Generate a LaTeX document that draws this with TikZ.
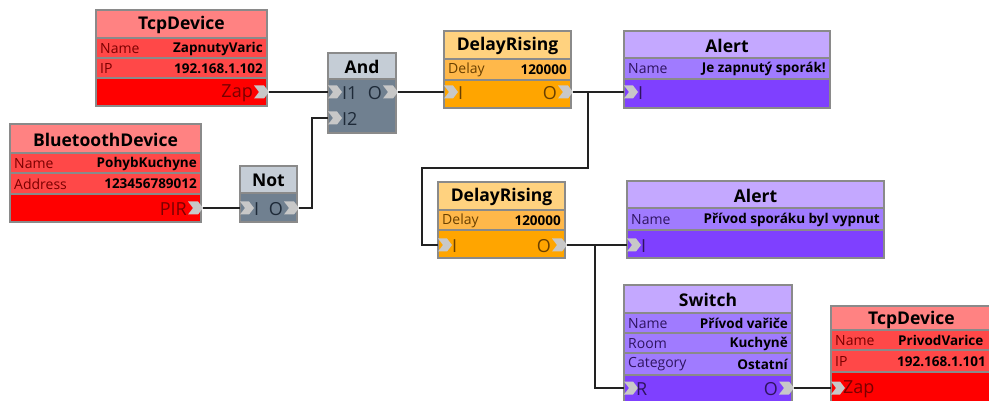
\documentclass[tikz,border=0pt]{standalone}
\usepackage{fontspec}
\setmainfont{Open Sans}
\definecolor{bord}{HTML}{8A8A8A}
\definecolor{portgray}{HTML}{C8C8C8}
\definecolor{redT}{HTML}{FF8282}
\definecolor{redR}{HTML}{FF4848}
\definecolor{redP}{HTML}{FF0000}
\definecolor{redL}{HTML}{7A0000}
\definecolor{orT}{HTML}{FFD27F}
\definecolor{orR}{HTML}{FFB84A}
\definecolor{orP}{HTML}{FFA500}
\definecolor{orL}{HTML}{6A4000}
\definecolor{puT}{HTML}{C4A8FF}
\definecolor{puR}{HTML}{A07BFF}
\definecolor{puP}{HTML}{7F40FF}
\definecolor{puL}{HTML}{2E1460}
\definecolor{grT}{HTML}{C5CDD6}
\definecolor{grP}{HTML}{708090}
\definecolor{grL}{HTML}{1E2A38}
\definecolor{wire}{HTML}{222222}
\newcommand\bx[5]{\filldraw[fill=#5,draw=bord,line width=1.5pt] (#1,#2) rectangle (#3,#4);}
\tikzset{
  ttl/.style={font=\fontsize{17.5}{17.5}\selectfont\bfseries, inner sep=0pt, text=black},
  lbl/.style={font=\fontsize{14}{14}\selectfont, inner sep=0pt, anchor=west},
  val/.style={font=\fontsize{13.5}{13.5}\selectfont\bfseries, inner sep=0pt, anchor=east, text=black},
  plbl/.style={font=\fontsize{18}{18}\selectfont, inner sep=0pt},
  outer/.style={draw=bord, line width=2.5pt},
  wireline/.style={draw=wire, line width=1.4pt},
  outport/.pic={\fill[portgray] (-13,-6.5) -- (-3,-6.5) -- (2,0) -- (-3,6.5) -- (-13,6.5) -- (-8,0) -- cycle;},
  inport/.pic={\fill[portgray] (0,-6.5) -- (9,-6.5) -- (14,0) -- (9,6.5) -- (0,6.5) -- (5,0) -- cycle;}
}
\begin{document}
\begin{tikzpicture}[x=1pt,y=-1pt]
\useasboundingbox (0,0) rectangle (989,401);
\clip (0,0) rectangle (989,401);
\fill[white] (0,0) rectangle (989,401);

% ---------- TcpDevice 1 ----------
\bx{96}{10}{267}{38}{redT}
\bx{96}{38}{267}{58}{redR}
\bx{96}{58}{267}{78}{redR}
\bx{96}{78}{267}{106}{redP}
\draw[outer] (96,10) rectangle (267,106);
\node[ttl] (tcpA) at (181.5,25) {TcpDevice};
\node[lbl,text=redL] (tcpAn) at (100,48.5) {Name};
\node[val] (tcpAnv) at (263,48.5) {ZapnutyVaric};
\node[lbl,text=redL] (tcpAi) at (100,68.5) {IP};
\node[val] (tcpAiv) at (263,68.5) {192.168.1.102};
\pic at (267,92) {outport};
\node[plbl,text=redL,anchor=east] (tcpAzl) at (253,93) {Zap};
\coordinate (tcpAzap) at (269,92);

% ---------- BluetoothDevice ----------
\bx{10}{124}{201}{153}{redT}
\bx{10}{153}{201}{173}{redR}
\bx{10}{173}{201}{194}{redR}
\bx{10}{194}{201}{222}{redP}
\draw[outer] (10,124) rectangle (201,222);
\node[ttl] (bt) at (105.5,139.5) {BluetoothDevice};
\node[lbl,text=redL] (btn) at (14,163.5) {Name};
\node[val] (btnv) at (197,163.5) {PohybKuchyne};
\node[lbl,text=redL] (bta) at (14,184) {Address};
\node[val] (btav) at (197,184) {123456789012};
\pic at (201,208) {outport};
\node[plbl,text=redL,anchor=east] (btpl) at (187,209) {PIR};
\coordinate (btpir) at (203,208);

% ---------- Not ----------
\bx{240}{166}{297}{193}{grT}
\bx{240}{193}{297}{222}{grP}
\draw[outer] (240,166) rectangle (297,222);
\node[ttl] (notT) at (268.5,180.5) {Not};
\pic at (240,208) {inport};
\pic at (297,208) {outport};
\node[plbl,text=grL,anchor=west] (notIl) at (254,209) {I};
\node[plbl,text=grL,anchor=east] (notOl) at (283,209) {O};
\coordinate (notI) at (240,208);
\coordinate (notO) at (299,208);

% ---------- And ----------
\bx{328}{53}{396}{79}{grT}
\bx{328}{79}{396}{133}{grP}
\draw[outer] (328,53) rectangle (396,133);
\node[ttl] (andT) at (362,67) {And};
\pic at (328,92) {inport};
\pic at (328,118) {inport};
\pic at (396,92) {outport};
\node[plbl,text=grL,anchor=west] (andI1l) at (342,93) {I1};
\node[plbl,text=grL,anchor=west] (andI2l) at (342,119) {I2};
\node[plbl,text=grL,anchor=east] (andOl) at (382,93) {O};
\coordinate (andI1) at (328,92);
\coordinate (andI2) at (328,118);
\coordinate (andO) at (398,92);

% ---------- DelayRising 1 ----------
\bx{444}{31}{571}{59}{orT}
\bx{444}{59}{571}{80}{orR}
\bx{444}{80}{571}{108}{orP}
\draw[outer] (444,31) rectangle (571,108);
\node[ttl] (drA) at (507.5,46) {DelayRising};
\node[lbl,text=orL] (drAd) at (448,70) {Delay};
\node[val] (drAdv) at (567,70) {120000};
\pic at (444,92) {inport};
\pic at (571,92) {outport};
\node[plbl,text=orL,anchor=west] (drAIl) at (458,93) {I};
\node[plbl,text=orL,anchor=east] (drAOl) at (557,93) {O};
\coordinate (drAI) at (444,92);
\coordinate (drAO) at (573,92);

% ---------- Alert 1 ----------
\bx{624}{31}{830}{58}{puT}
\bx{624}{58}{830}{79}{puR}
\bx{624}{79}{830}{108}{puP}
\draw[outer] (624,31) rectangle (830,108);
\node[ttl] (alA) at (727,45.5) {Alert};
\node[lbl,text=puL] (alAn) at (628,69) {Name};
\node[val] (alAnv) at (826,69) {Je zapnutý sporák!};
\pic at (624,92) {inport};
\node[plbl,text=puL,anchor=west] (alAIl) at (638,93) {I};
\coordinate (alAI) at (624,92);

% ---------- DelayRising 2 ----------
\bx{438}{182}{565}{210}{orT}
\bx{438}{210}{565}{230}{orR}
\bx{438}{230}{565}{258}{orP}
\draw[outer] (438,182) rectangle (565,258);
\node[ttl] (drB) at (501.5,197) {DelayRising};
\node[lbl,text=orL] (drBd) at (442,220.5) {Delay};
\node[val] (drBdv) at (561,220.5) {120000};
\pic at (438,245) {inport};
\pic at (565,245) {outport};
\node[plbl,text=orL,anchor=west] (drBIl) at (452,246) {I};
\node[plbl,text=orL,anchor=east] (drBOl) at (551,246) {O};
\coordinate (drBI) at (438,245);
\coordinate (drBO) at (567,245);

% ---------- Alert 2 ----------
\bx{627}{181}{884}{208}{puT}
\bx{627}{208}{884}{230}{puR}
\bx{627}{230}{884}{258}{puP}
\draw[outer] (627,181) rectangle (884,258);
\node[ttl] (alB) at (755.5,195.5) {Alert};
\node[lbl,text=puL] (alBn) at (631,219.5) {Name};
\node[val] (alBnv) at (880,219.5) {Přívod sporáku byl vypnut};
\pic at (627,245) {inport};
\node[plbl,text=puL,anchor=west] (alBIl) at (641,246) {I};
\coordinate (alBI) at (627,245);

% ---------- Switch ----------
\bx{624}{285}{792}{313}{puT}
\bx{624}{313}{792}{333}{puR}
\bx{624}{333}{792}{353}{puR}
\bx{624}{353}{792}{375}{puR}
\bx{624}{375}{792}{410}{puP}
\draw[outer] (624,285) rectangle (792,410);
\node[ttl] (sw) at (708,300) {Switch};
\node[lbl,text=puL] (swn) at (628,323.5) {Name};
\node[val] (swnv) at (788,323.5) {Přívod vařiče};
\node[lbl,text=puL] (swr) at (628,343.5) {Room};
\node[val] (swrv) at (788,343.5) {Kuchyně};
\node[lbl,text=puL] (swc) at (628,364.5) {Category};
\node[val] (swcv) at (788,364.5) {Ostatní};
\pic at (624,388) {inport};
\pic at (792,388) {outport};
\node[plbl,text=puL,anchor=west] (swRl) at (636,389) {R};
\node[plbl,text=puL,anchor=east] (swOl) at (778,389) {O};
\coordinate (swR) at (624,388);
\coordinate (swO) at (794,388);

% ---------- TcpDevice 2 ----------
\bx{831}{306}{1010}{330}{redT}
\bx{831}{330}{1010}{350}{redR}
\bx{831}{350}{1010}{372}{redR}
\bx{831}{372}{1010}{410}{redP}
\draw[outer] (831,306) rectangle (1010,410);
\node[ttl,anchor=west] (tcpB) at (868,319.5) {TcpDevice};
\node[lbl,text=redL] (tcpBn) at (835,340.5) {Name};
\node[val,anchor=west] (tcpBnv) at (898,340.5) {PrivodVarice};
\node[lbl,text=redL] (tcpBi) at (835,361.5) {IP};
\node[val,anchor=west] (tcpBiv) at (897,361.5) {192.168.1.101};
\pic at (831,388) {inport};
\node[plbl,text=redL,anchor=west] (tcpBzl) at (843,389) {Zap};
\coordinate (tcpBzap) at (831,388);

% ---------- connectors ----------
\draw[wireline] (tcpAzap) -- (andI1);
\draw[wireline] (btpir) -- (notI);
\draw[wireline] (notO) -| (312,118) -- (andI2);
\draw[wireline] (andO) -- (drAI);
\draw[wireline] (drAO) -- (alAI);
\coordinate (brA) at (588,92);
\draw[wireline] (brA) -- (588,168) -| (422,245) -- (drBI);
\draw[wireline] (drBO) -- (alBI);
\coordinate (brB) at (595,245);
\draw[wireline] (brB) |- (swR);
\draw[wireline] (swO) -- (tcpBzap);
\end{tikzpicture}
\end{document}
